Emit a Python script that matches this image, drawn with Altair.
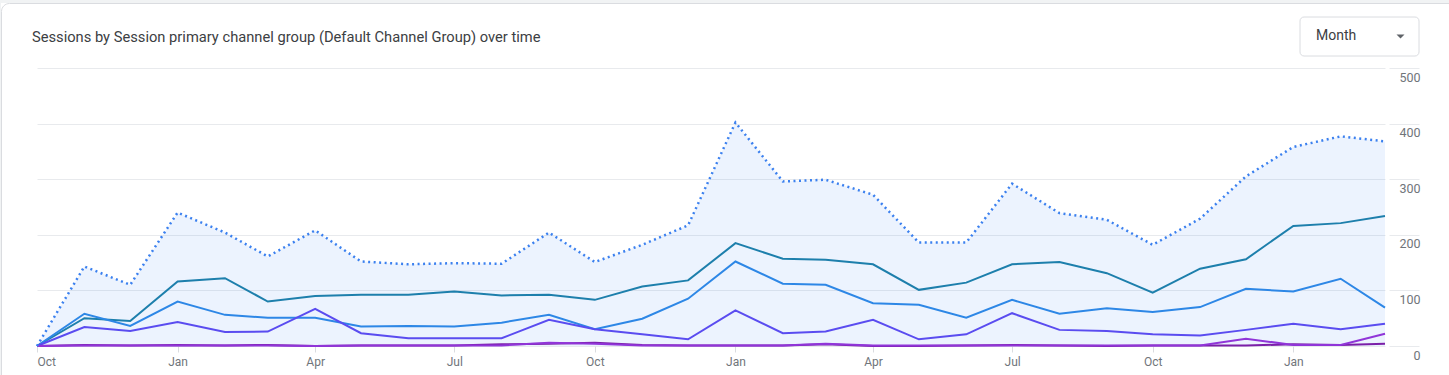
import altair as alt
import pandas as pd

# ---- data ----
months = pd.date_range("2021-10-01", "2024-03-01", freq="MS").strftime("%Y-%m-%d").tolist()

total = [0, 143, 110, 240, 204, 161, 208, 152, 147, 149, 148, 204, 151, 182, 217,
         402, 296, 299, 272, 186, 186, 292, 239, 227, 182, 229, 305, 358, 377, 368]
organic_search = [0, 50, 45, 116, 122, 80, 90, 92, 92, 98, 91, 92, 83, 107, 118,
                  185, 157, 155, 147, 101, 114, 147, 151, 131, 96, 139, 156, 216, 221, 234]
direct = [0, 58, 36, 80, 56, 51, 51, 35, 36, 35, 42, 56, 30, 49, 85,
          152, 112, 110, 77, 74, 51, 83, 58, 68, 61, 70, 103, 98, 121, 69]
referral = [0, 34, 27, 43, 25, 26, 67, 23, 14, 14, 14, 47, 30, 21, 12,
            64, 23, 26, 47, 12, 21, 59, 29, 27, 21, 19, 29, 40, 30, 40]
organic_social = [0, 2, 1, 2, 1, 2, 0, 1, 1, 1, 3, 4, 6, 2, 1,
                  1, 1, 3, 0, 0, 1, 2, 1, 0, 1, 1, 1, 3, 2, 4]
unassigned = [0, 1, 1, 1, 1, 1, 0, 1, 1, 1, 1, 6, 4, 1, 1,
              1, 1, 4, 1, 1, 1, 1, 1, 1, 1, 1, 13, 2, 2, 22]

series_names = ["Organic Search", "Direct", "Referral", "Organic Social", "Unassigned"]
series_values = [organic_search, direct, referral, organic_social, unassigned]
series_colors = ["#1d7fac", "#2d87e6", "#5a4cf0", "#7b1fa8", "#9035d8"]

tick_dates = [(2021, 10), (2022, 1), (2022, 4), (2022, 7), (2022, 10), (2023, 1),
              (2023, 4), (2023, 7), (2023, 10), (2024, 1)]
y_ticks = [0, 100, 200, 300, 400, 500]

title_text = "Sessions by Session primary channel group (Default Channel Group) over time"
dropdown_text = "Month"

# ---- tables ----
total_df = pd.DataFrame({"date": months, "value": total})
long_df = pd.DataFrame(
    [{"date": d, "series": n, "value": v}
     for n, vals in zip(series_names, series_values) for d, v in zip(months, vals)]
)

FONT = "Roboto"
GRID = "#e8eaed"
LABEL = "#70757a"
OUTER = "#f1f3f4"

x_enc = alt.X(
    "date:T",
    scale=alt.Scale(type="utc", nice=False),
    axis=alt.Axis(
        values=[alt.DateTime(year=y, month=m, date=1, utc=True) for y, m in tick_dates],
        labelExpr="utcFormat(datum.value, '%b')", labelFlush=True, labelOverlap=False,
        tickSize=6, tickColor="#dadce0", domain=False, grid=False,
        labelColor=LABEL, labelFont=FONT, labelFontSize=12, labelPadding=4, title=None,
    ),
)
y_axis = alt.Axis(
    orient="right", values=y_ticks, grid=True, gridColor=GRID, domain=False,
    tickSize=30, offset=4, tickColor=GRID, labelAlign="right", labelBaseline="top",
    labelPadding=1, labelOffset=3, labelColor=LABEL, labelFont=FONT, labelFontSize=12.5,
    title=None,
)
y_scale = alt.Scale(domain=[0, 500], nice=False)

one = pd.DataFrame({"k": [0]})

# outer grey strip above / left of the card, and the card border (stroke only)
strip_top = alt.Chart(one).mark_rect(fill=OUTER).encode(
    x=alt.value(-37), x2=alt.value(1412), y=alt.value(-68), y2=alt.value(-65))
strip_left = alt.Chart(one).mark_rect(fill=OUTER).encode(
    x=alt.value(-37), x2=alt.value(-36), y=alt.value(-68), y2=alt.value(307))
card = alt.Chart(one).mark_rect(
    fillOpacity=0, stroke="#dadce0", strokeWidth=1, cornerRadius=8
).encode(x=alt.value(-35.5), x2=alt.value(1440), y=alt.value(-64.5), y2=alt.value(340))

title = alt.Chart(one).mark_text(
    text=title_text, align="left", baseline="middle", font=FONT, fontSize=14.7,
    color="#3c4043"
).encode(x=alt.value(-5), y=alt.value(-30.5))

dropdown = alt.Chart(one).mark_rect(
    fill="white", stroke="#dadce0", strokeWidth=1, cornerRadius=4
).encode(x=alt.value(1263), x2=alt.value(1382), y=alt.value(-51), y2=alt.value(-12))

dropdown_label = alt.Chart(one).mark_text(
    text=dropdown_text, align="left", baseline="middle", font=FONT, fontSize=14,
    color="#3c4043"
).encode(x=alt.value(1279), y=alt.value(-32.5))

arrow = alt.Chart(one).mark_point(
    shape="M-1,-0.5L1,-0.5L0,0.5Z", filled=True, color="#5f6368", opacity=1, size=64
).encode(x=alt.value(1363.5), y=alt.value(-31.5))

area = alt.Chart(total_df).mark_area(color="#4285f4", opacity=0.1).encode(
    x=x_enc, y=alt.Y("value:Q", scale=y_scale, axis=y_axis)
)

lines = alt.Chart(long_df).mark_line(strokeWidth=2).encode(
    x=x_enc,
    y=alt.Y("value:Q", scale=y_scale),
    color=alt.Color("series:N", scale=alt.Scale(domain=series_names, range=series_colors),
                    legend=None),
    order=alt.Order("date:T"),
    detail="series:N",
)

total_line = alt.Chart(total_df).mark_line(
    color="#3b80ef", strokeWidth=2.5, strokeDash=[2, 3.5]
).encode(x=x_enc, y=alt.Y("value:Q", scale=y_scale))

chart = alt.layer(area, lines, total_line, strip_top, strip_left, card, title,
                  dropdown, dropdown_label, arrow).properties(
    width=1348, height=278,
    padding={"left": 37, "top": 68, "right": 64, "bottom": 29},
    autosize=alt.AutoSizeParams(type="none"),
    background="white",
).configure_view(stroke=None)

chart.save("out.html", embed_options={"renderer": "svg", "actions": False})
